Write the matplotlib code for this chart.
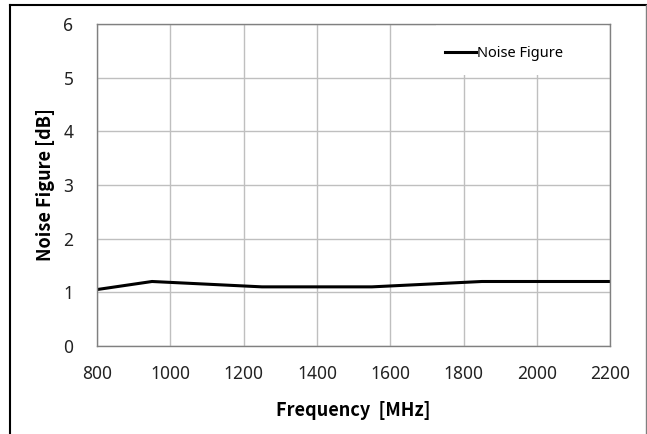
import matplotlib
matplotlib.use('Agg')
import matplotlib.pyplot as plt
from matplotlib.lines import Line2D
from matplotlib.patches import Rectangle

plt.rcParams['font.family'] = ['Noto Sans', 'DejaVu Sans']

# Data
freq = [800, 950, 1250, 1550, 1850, 2200]
noise_figure = [1.05, 1.2, 1.1, 1.1, 1.2, 1.2]
x_ticks = [800, 1000, 1200, 1400, 1600, 1800, 2000, 2200]
y_ticks = [0, 1, 2, 3, 4, 5, 6]

fig = plt.figure(figsize=(6.47, 4.34), dpi=100)
ax = fig.add_axes([0.150, 0.203, 0.793, 0.742])

ax.plot(freq, noise_figure, color='black', linewidth=2.2, label='Noise Figure')

ax.set_xlim(800, 2200)
ax.set_ylim(0, 6)
ax.set_xticks(x_ticks)
ax.set_yticks(y_ticks)
ax.grid(True, color='#bfbfbf', linewidth=1)
ax.set_axisbelow(True)
for s in ax.spines.values():
    s.set_color('#808080')
    s.set_linewidth(1)
ax.tick_params(axis='both', length=0, labelsize=12.5, colors='#222222')
ax.tick_params(axis='x', pad=14)
ax.tick_params(axis='y', pad=17)

lab_font = ['Noto Sans CJK KR', 'DejaVu Sans']
ax.set_xlabel('Frequency  [MHz]', fontsize=13, fontweight='bold', labelpad=13, family=lab_font)
ax.set_ylabel('Noise Figure [dB]', fontsize=13, fontweight='bold', labelpad=6, family=lab_font)

# white legend area hides the grid behind it
ax.add_patch(Rectangle((0.66, 0.84), 0.335, 0.155, transform=ax.transAxes,
                       facecolor='white', edgecolor='none', zorder=1))
ax.legend(loc='center left', bbox_to_anchor=(0.678, 0.907), frameon=False,
          fontsize=10.5, handlelength=2.1, handletextpad=0.1, borderaxespad=0,
          borderpad=0)

# outer chart border
fig.add_artist(Line2D([9.5 / 647, 9.5 / 647], [0, 1 - 5 / 434], color='black', linewidth=1.5))
fig.add_artist(Line2D([9.5 / 647, 645.5 / 647], [1 - 5 / 434, 1 - 5 / 434], color='black', linewidth=1.5))
fig.add_artist(Line2D([645.5 / 647, 645.5 / 647], [0, 1 - 5 / 434], color='#808080', linewidth=1))

fig.savefig('out.png', dpi=100)
